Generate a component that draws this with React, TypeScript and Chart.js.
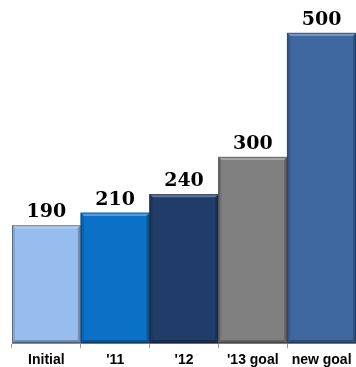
import React, { useEffect, useRef } from "react";
import { Chart, registerables } from "chart.js";

Chart.register(...registerables);

const categories = ["Initial", "'11", "'12", "'13 goal", "new goal"];
const values = [190, 210, 240, 300, 500];
const colors = ["#96BDED", "#0A71C6", "#1F3D68", "#808080", "#3F68A0"];

function shade(hex: string, amt: number): string {
  const n = parseInt(hex.slice(1), 16);
  let r = (n >> 16) & 255, g = (n >> 8) & 255, b = n & 255;
  if (amt >= 0) {
    r = Math.round(r + (255 - r) * amt);
    g = Math.round(g + (255 - g) * amt);
    b = Math.round(b + (255 - b) * amt);
  } else {
    r = Math.round(r * (1 + amt));
    g = Math.round(g * (1 + amt));
    b = Math.round(b * (1 + amt));
  }
  return `rgb(${r},${g},${b})`;
}

const bevelPlugin = {
  id: "bevel",
  afterDatasetsDraw(chart: any) {
    const ctx = chart.ctx;
    const meta = chart.getDatasetMeta(0);
    meta.data.forEach((el: any, i: number) => {
      const { x, y, width, base } = el.getProps(["x", "y", "width", "base"], true);
      const l = x - width / 2;
      const r = x + width / 2;
      const t = y;
      const bt = base;
      const b = 3;
      const c = colors[i];
      ctx.save();
      ctx.fillStyle = shade(c, 0.3);
      ctx.beginPath();
      ctx.moveTo(l, t); ctx.lineTo(r, t); ctx.lineTo(r - b, t + b); ctx.lineTo(l + b, t + b); ctx.closePath(); ctx.fill();
      ctx.fillStyle = shade(c, -0.12);
      ctx.beginPath();
      ctx.moveTo(l, t); ctx.lineTo(l + b, t + b); ctx.lineTo(l + b, bt - b); ctx.lineTo(l, bt); ctx.closePath(); ctx.fill();
      ctx.fillStyle = shade(c, -0.22);
      ctx.beginPath();
      ctx.moveTo(r, t); ctx.lineTo(r - b, t + b); ctx.lineTo(r - b, bt - b); ctx.lineTo(r, bt); ctx.closePath(); ctx.fill();
      ctx.fillStyle = shade(c, -0.3);
      ctx.beginPath();
      ctx.moveTo(l, bt); ctx.lineTo(l + b, bt - b); ctx.lineTo(r - b, bt - b); ctx.lineTo(r, bt); ctx.closePath(); ctx.fill();
      ctx.strokeStyle = "rgba(40,40,40,0.45)";
      ctx.lineWidth = 1;
      ctx.strokeRect(l + 0.5, t + 0.5, width - 1, bt - t - 1);
      ctx.fillStyle = "#000000";
      ctx.font = "bold 19px 'DejaVu Serif'";
      ctx.textAlign = "center";
      ctx.textBaseline = "alphabetic";
      ctx.fillText(String(values[i]), x, t - 8);
      ctx.restore();
    });
  },
};

export default function App() {
  const ref = useRef<HTMLCanvasElement | null>(null);
  useEffect(() => {
    document.body.style.margin = "0";
    const chart = new Chart(ref.current as HTMLCanvasElement, {
      type: "bar",
      data: {
        labels: categories,
        datasets: [
          {
            data: values,
            backgroundColor: colors,
            borderWidth: 0,
            categoryPercentage: 1,
            barPercentage: 1,
          },
        ],
      },
      options: {
        responsive: false,
        animation: false,
        layout: { padding: { left: 12, right: 0, top: 2, bottom: -6 } },
        plugins: { legend: { display: false }, tooltip: { enabled: false } },
        scales: {
          y: { display: false, min: 0, max: 550 },
          x: {
            grid: {
              offset: true,
              drawOnChartArea: false,
              drawTicks: true,
              tickLength: 5,
              color: "#999999",
            },
            border: { display: true, color: "#999999" },
            ticks: {
              color: "#000000",
              font: { family: "'Liberation Sans'", weight: "bold", size: 14 },
              padding: 4,
              maxRotation: 0,
              autoSkip: false,
            },
          },
        },
      },
      plugins: [bevelPlugin],
    } as any);
    return () => chart.destroy();
  }, []);
  return <canvas ref={ref} width={356} height={367} style={{ display: "block" }} />;
}
